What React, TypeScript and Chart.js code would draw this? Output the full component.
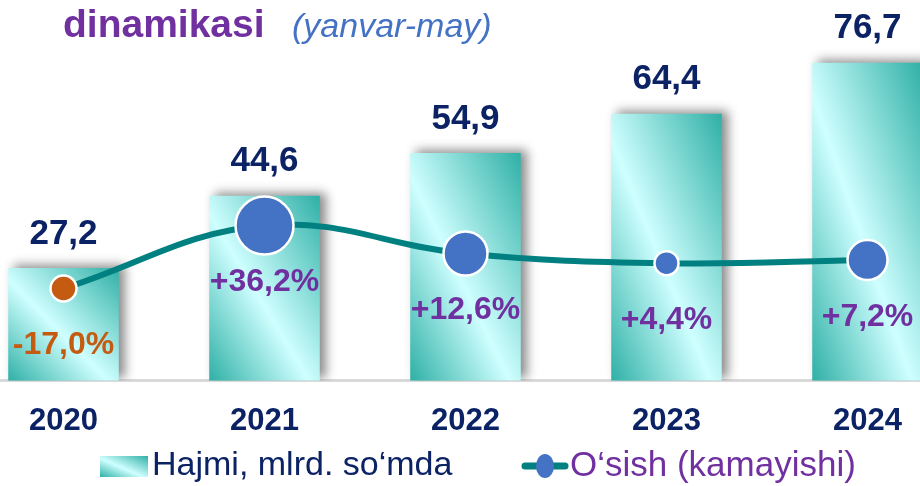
import React, { useEffect, useRef } from "react";
import { Chart, registerables } from "chart.js";

Chart.register(...registerables);

const categories = ["2020", "2021", "2022", "2023", "2024"];
const volume = [27.2, 44.6, 54.9, 64.4, 76.7];
const growth = [-17.0, 36.2, 12.6, 4.4, 7.2];
const seriesNames = ["Hajmi, mlrd. so\u2018mda", "O\u2018sish (kamayishi)"];
const titleMain = "dinamikasi";
const titleSub = "(yanvar-may)";

const pointRadii = [13, 29, 22, 12, 20];
const pointColors = ["#C55A11", "#4472C4", "#4472C4", "#4472C4", "#4472C4"];

const NAVY = "#0B2264";
const PURPLE = "#7030A0";
const ORANGE = "#C55A11";
const TEAL = "#2FB0A6";
const LIGHT = "#CFFFFF";
const LINE = "#008080";
const FONT = '"Liberation Sans", Arial, sans-serif';
const SHIFT = 37; // canvas is shifted left by this amount

const fmt = (v: number) => v.toFixed(1).replace(".", ",");
const fmtPct = (v: number) => (v > 0 ? "+" : "") + v.toFixed(1).replace(".", ",") + "%";

function barGradient(ctx: CanvasRenderingContext2D, l: number, t: number, r: number, b: number) {
  const w = Math.max(1, r - l);
  const h = Math.max(1, b - t);
  const s = 2 / (1 / (w * w) + 1 / (h * h));
  const g = ctx.createLinearGradient(l, b, l + s / w, b - s / h);
  g.addColorStop(0, TEAL);
  g.addColorStop(0.45, LIGHT);
  g.addColorStop(1, TEAL);
  return g;
}

const BAR_PCT = 0.55;

const shadowPlugin = {
  id: "barShadow",
  beforeDatasetDraw(chart: any, args: any) {
    if (args.index === 0) {
      const ctx = chart.ctx;
      ctx.save();
      ctx.shadowColor = "rgba(0,0,0,0.45)";
      ctx.shadowBlur = 10;
      ctx.shadowOffsetX = 6;
      ctx.shadowOffsetY = -3;
    }
  },
  afterDatasetDraw(chart: any, args: any) {
    if (args.index === 0) chart.ctx.restore();
  },
};

const labelPlugin = {
  id: "labels",
  afterDatasetsDraw(chart: any) {
    const ctx: CanvasRenderingContext2D = chart.ctx;
    ctx.save();
    ctx.textAlign = "center";
    ctx.textBaseline = "middle";
    const barMeta = chart.getDatasetMeta(0);
    barMeta.data.forEach((bar: any, i: number) => {
      ctx.fillStyle = NAVY;
      ctx.font = `bold 35px ${FONT}`;
      ctx.fillText(fmt(volume[i]), bar.x, bar.y - 34);
    });
    const lineMeta = chart.getDatasetMeta(1);
    lineMeta.data.forEach((pt: any, i: number) => {
      ctx.fillStyle = growth[i] < 0 ? ORANGE : PURPLE;
      ctx.font = `bold 32px ${FONT}`;
      ctx.fillText(fmtPct(growth[i]), pt.x, pt.y + 57);
    });

    // title
    ctx.textAlign = "left";
    ctx.textBaseline = "alphabetic";
    ctx.fillStyle = PURPLE;
    ctx.font = `bold 39px ${FONT}`;
    ctx.fillText(titleMain, 63 + SHIFT, 37);
    ctx.fillStyle = "#4472C4";
    ctx.font = `italic 34px ${FONT}`;
    ctx.fillText(titleSub, 292 + SHIFT, 37);

    // legend
    const ly = 466;
    const bx = 100 + SHIFT;
    ctx.fillStyle = barGradient(ctx, bx, ly - 10, bx + 48, ly + 11);
    ctx.fillRect(bx, ly - 10, 48, 21);
    ctx.fillStyle = NAVY;
    ctx.font = `34px ${FONT}`;
    ctx.textBaseline = "middle";
    ctx.fillText(seriesNames[0], 152 + SHIFT, ly);

    const sx = 522 + SHIFT;
    ctx.strokeStyle = LINE;
    ctx.lineWidth = 7;
    ctx.lineCap = "round";
    ctx.beginPath();
    ctx.moveTo(sx + 3, ly);
    ctx.lineTo(sx + 43, ly);
    ctx.stroke();
    ctx.fillStyle = "#4472C4";
    ctx.beginPath();
    ctx.ellipse(sx + 23, ly, 9, 12, 0, 0, Math.PI * 2);
    ctx.fill();
    ctx.fillStyle = PURPLE;
    ctx.font = `35px ${FONT}`;
    ctx.fillText(seriesNames[1], 570 + SHIFT, ly);
    ctx.restore();
  },
};

export default function App() {
  const ref = useRef<HTMLCanvasElement>(null);
  useEffect(() => {
    const canvas = ref.current!;
    const chart = new Chart(canvas, {
      data: {
        labels: categories,
        datasets: [
          {
            type: "bar",
            label: seriesNames[0],
            data: volume,
            yAxisID: "y",
            order: 2,
            barPercentage: BAR_PCT,
            categoryPercentage: 1,
            borderWidth: 0,
            backgroundColor: (c: any) => {
              const ch = c.chart;
              const xs = ch.scales.x;
              const ys = ch.scales.y;
              if (!ch.chartArea || !xs || !ys || c.dataIndex === undefined) return TEAL;
              const cx = xs.getPixelForValue(c.dataIndex);
              const w = (xs.width / categories.length) * BAR_PCT;
              const top = ys.getPixelForValue(volume[c.dataIndex]);
              const bot = ys.getPixelForValue(0);
              return barGradient(ch.ctx, cx - w / 2, top, cx + w / 2, bot);
            },
          } as any,
          {
            type: "line",
            label: seriesNames[1],
            data: growth,
            yAxisID: "y1",
            order: 1,
            borderColor: LINE,
            borderWidth: 6,
            tension: 0.4,
            pointRadius: pointRadii,
            pointHoverRadius: pointRadii,
            pointBackgroundColor: pointColors,
            pointBorderColor: "#FFFFFF",
            pointBorderWidth: 2.5,
            clip: false,
          } as any,
        ],
      },
      options: {
        responsive: false,
        animation: false,
        devicePixelRatio: 1,
        layout: { autoPadding: false, padding: { top: 20, left: 0, right: 0, bottom: 32 } },
        plugins: { legend: { display: false }, tooltip: { enabled: false } },
        scales: {
          x: {
            grid: { display: false },
            border: { display: true, color: "#D9D9D9", width: 3 },
            ticks: {
              color: NAVY,
              font: { family: FONT, size: 31, weight: "bold" },
              padding: 14,
            },
          },
          y: { display: false, min: 0, max: 87 },
          y1: { display: false, min: -95, max: 210, position: "right" },
        },
      },
      plugins: [shadowPlugin, labelPlugin],
    } as any);
    return () => chart.destroy();
  }, []);
  return (
    <div
      style={{
        position: "fixed",
        left: 0,
        top: 0,
        width: 920,
        height: 486,
        overflow: "hidden",
        background: "#FFFFFF",
      }}
    >
      <canvas
        ref={ref}
        width={1005}
        height={486}
        style={{ position: "absolute", left: -SHIFT, top: 0, width: 1005, height: 486 }}
      />
    </div>
  );
}
